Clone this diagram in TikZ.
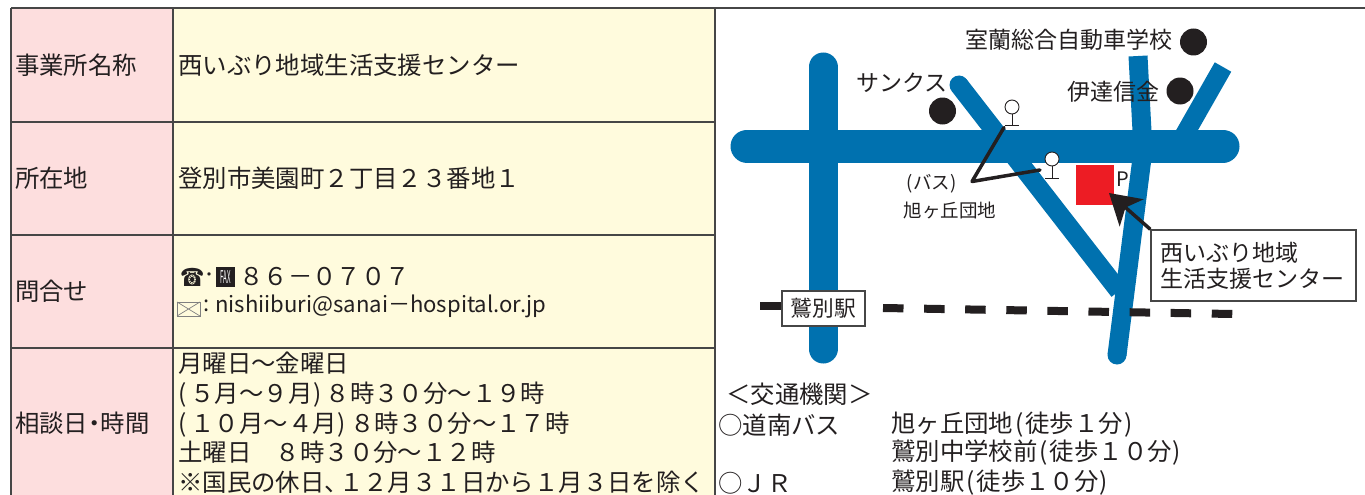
\documentclass[tikz,border=0pt]{standalone}
\usepackage{fontspec}
\setmainfont{Noto Sans CJK JP}
\newfontfamily\symbolfont{DejaVu Sans}
\usetikzlibrary{arrows.meta}
\definecolor{labelpink}{RGB}{253,222,222}
\definecolor{cellyellow}{RGB}{255,251,221}
\definecolor{roadblue}{RGB}{0,113,175}
\definecolor{officered}{RGB}{237,28,36}
\definecolor{inkblack}{RGB}{35,31,32}
\definecolor{rulegrey}{RGB}{70,70,70}
\newcommand{\lbr}{(\kern4pt}
\newcommand{\rbr}{\kern1pt)\kern4pt}
\tikzset{
  tabletext/.style={anchor=west,inner sep=0pt,align=left,text=inkblack,font=\fontsize{24.4}{29.7}\selectfont},
  maptext/.style={anchor=west,inner sep=0pt,align=left,text=inkblack,font=\fontsize{23}{26}\selectfont},
  smalltext/.style={anchor=center,inner sep=0pt,text=inkblack,font=\fontsize{18.5}{20}\selectfont},
  tablerule/.style={draw=rulegrey,line width=1.4},
  wideroad/.style={draw=roadblue,line width=33,line cap=round},
  sideroad/.style={draw=roadblue,line width=29,line cap=round},
  buttroad/.style={draw=roadblue,line width=19,line join=round},
  landmark/.style={fill=inkblack,draw=none},
  busstop/.style={draw=inkblack,line width=0.9,fill=white},
  leaderline/.style={draw=inkblack,line width=3.5,line cap=round,line join=round},
  railline/.style={draw=inkblack,line width=8},
  namebox/.style={draw=rulegrey,fill=white,line width=1.4,inner sep=0pt,text=inkblack}
}

\begin{document}
\begin{tikzpicture}[x=1pt,y=1pt,yscale=-1,xscale=1]
\useasboundingbox (0,0) rectangle (1365,495);

%Table cells
\fill [labelpink] (11,8) rectangle (173,495);
\fill [cellyellow] (173,8) rectangle (715,495);

%Table rules
\draw [tablerule] (11,8) -- (1365,8);
\draw [tablerule] (11,122) -- (715,122);
\draw [tablerule] (11,235) -- (715,235);
\draw [tablerule] (11,348) -- (715,348);
\draw [tablerule] (11,8) -- (11,495);
\draw [tablerule] (173,8) -- (173,495);
\draw [tablerule] (715,8) -- (715,495);

% Text Node
\draw (15,65) node (officelabel) [tabletext] {事業所名称};
% Text Node
\draw (178,65) node (officename) [tabletext] {西いぶり地域生活支援センター};
% Text Node
\draw (15,178) node (addresslabel) [tabletext] {所在地};
% Text Node
\draw (178,178) node (address) [tabletext] {登別市美園町２丁目２３番地１};
% Text Node
\draw (15,291) node (contactlabel) [tabletext] {問合せ};
% Text Node
\draw (180,277) node (phoneicon) [tabletext,font=\symbolfont\fontsize{25}{25}\selectfont] {\scalebox{0.78}[1]{☎}};
% Text Node
\draw (209,277) node (phonedot) [inner sep=0pt,text=inkblack,font=\fontsize{16}{16}\selectfont] {・};
% Text Node
\draw (225.5,277) node (faxicon) [fill=inkblack,text=white,inner sep=0pt,minimum width=19,minimum height=20,font=\fontsize{11}{11}\selectfont] {\scalebox{0.55}[1.6]{FAX}};
% Text Node
\draw (239,277) node (phonenumber) [tabletext] {８６－０７０７};
%Envelope
\draw [draw=gray,line width=0.7] (177,302) rectangle (200,316);
\draw [draw=gray,line width=0.7] (177,302) -- (200,316) (200,302) -- (177,316);
% Text Node
\draw (207,306) node (maildots) [inner sep=0pt,text=inkblack,font=\fontsize{22}{25}\selectfont] {:};
% Text Node
\draw (215,306) node (mailaddress) [tabletext,font=\fontsize{22.1}{25}\selectfont] {nishiiburi@sanai－hospital.or.jp};
% Text Node
\draw (15,423) node (hourslabel) [tabletext] {相談日\kern-6pt・\kern-6pt時間};
% Text Node
\draw (178,423) node (hours) [tabletext] {月曜日～金曜日\\\lbr ５月～９月\rbr ８時３０分～１９時\\\lbr １０月～４月\rbr ８時３０分～１７時\\土曜日　８時３０分～１２時\\※国民の休日、\kern-10pt １２月３１日から１月３日を除く};

%Roads
\draw [sideroad] (823,67) -- (823,349);
\draw [buttroad] (1138,56) -- (1143,150) -- (1117,355);
\fill [roadblue] (1117,355) circle (9.5);
\draw [buttroad] (1223,67) -- (1178,146);
\draw [buttroad] (959,85) -- (1119,291);
\fill [roadblue] (959,85) circle (9.5);
\draw [wideroad] (747,146) -- (1223,146);

%Landmarks
\fill [landmark] (1193.5,42) circle (13.5);
\fill [landmark] (1180,91) circle (13.5);
\fill [landmark] (942.5,111) circle (13.5);

%Bus stops
\draw [busstop] (1012,107) circle (7);
\draw [busstop] (1012,114) -- (1012,125) (1005,125) -- (1019,125);
\draw [busstop] (1052,159) circle (7);
\draw [busstop] (1052,166) -- (1052,178) (1045,178) -- (1059,178);

%Leader lines
\coordinate (stopnorth) at (1004,127.5);
\coordinate (stopsouth) at (1040,170);
\coordinate (leaderjoin) at (972,181.5);
\draw [leaderline] (stopnorth) -- (leaderjoin) -- (stopsouth);

%Office
\fill [officered] (1076,165) rectangle (1114,205);

%Railway
\coordinate (railwest) at (760,306);
\coordinate (railstart) at (883,308);
\coordinate (railend) at (1233,314);
\draw [railline] (railwest) -- (782,306);
\draw [railline,dash pattern=on 20.5 off 20.6] (railstart) -- (railend);

% Text Node
\draw (823.5,308.5) node (station) [namebox,minimum width=83,minimum height=35,font=\fontsize{21.7}{24}\selectfont] {鷲別駅};
% Text Node
\draw (1253.5,265.5) node (officebox) [namebox,minimum width=205,minimum height=71] {};
% Text Node
\draw (1160,266) node (officeboxtext) [maptext] {西いぶり地域\\生活支援センター};

%Arrow
\coordinate (officetip) at (1109,193);
\draw [draw=inkblack,line width=3.5,-{Stealth[length=30,width=36,inset=8]}] (officebox.north west) -- (officetip);

% Text Node
\draw (965,40) node (driving) [maptext] {室蘭総合自動車学校};
% Text Node
\draw (856,83) node (sunkus) [maptext] {サンクス};
% Text Node
\draw (1067,92) node (bank) [maptext] {伊達信金};
% Text Node
\draw (1123,179) node (parking) [inner sep=0pt,text=inkblack,font=\fontsize{20}{20}\selectfont] {P};
% Text Node
\draw (931.5,184) node (buslabel) [smalltext] {(バス)};
% Text Node
\draw (950,210) node (busname) [smalltext] {旭ヶ丘団地};

% Text Node
\draw (726,394) node (transporttitle) [tabletext] {＜交通機関＞};
% Text Node
\draw (718,425) node (busline) [tabletext] {○道南バス};
% Text Node
\draw (891,425) node (busstopone) [tabletext] {旭ヶ丘団地\kern2pt(\kern2pt 徒歩１分\kern1pt)};
% Text Node
\draw (891,453) node (busstoptwo) [tabletext] {鷲別中学校前\kern2pt(\kern2pt 徒歩１０分\kern1pt)};
% Text Node
\draw (718,483) node (jrline) [tabletext] {○ＪＲ};
% Text Node
\draw (891,483) node (jrstation) [tabletext] {鷲別駅\kern2pt(\kern2pt 徒歩１０分\kern1pt)};

\end{tikzpicture}
\end{document}
